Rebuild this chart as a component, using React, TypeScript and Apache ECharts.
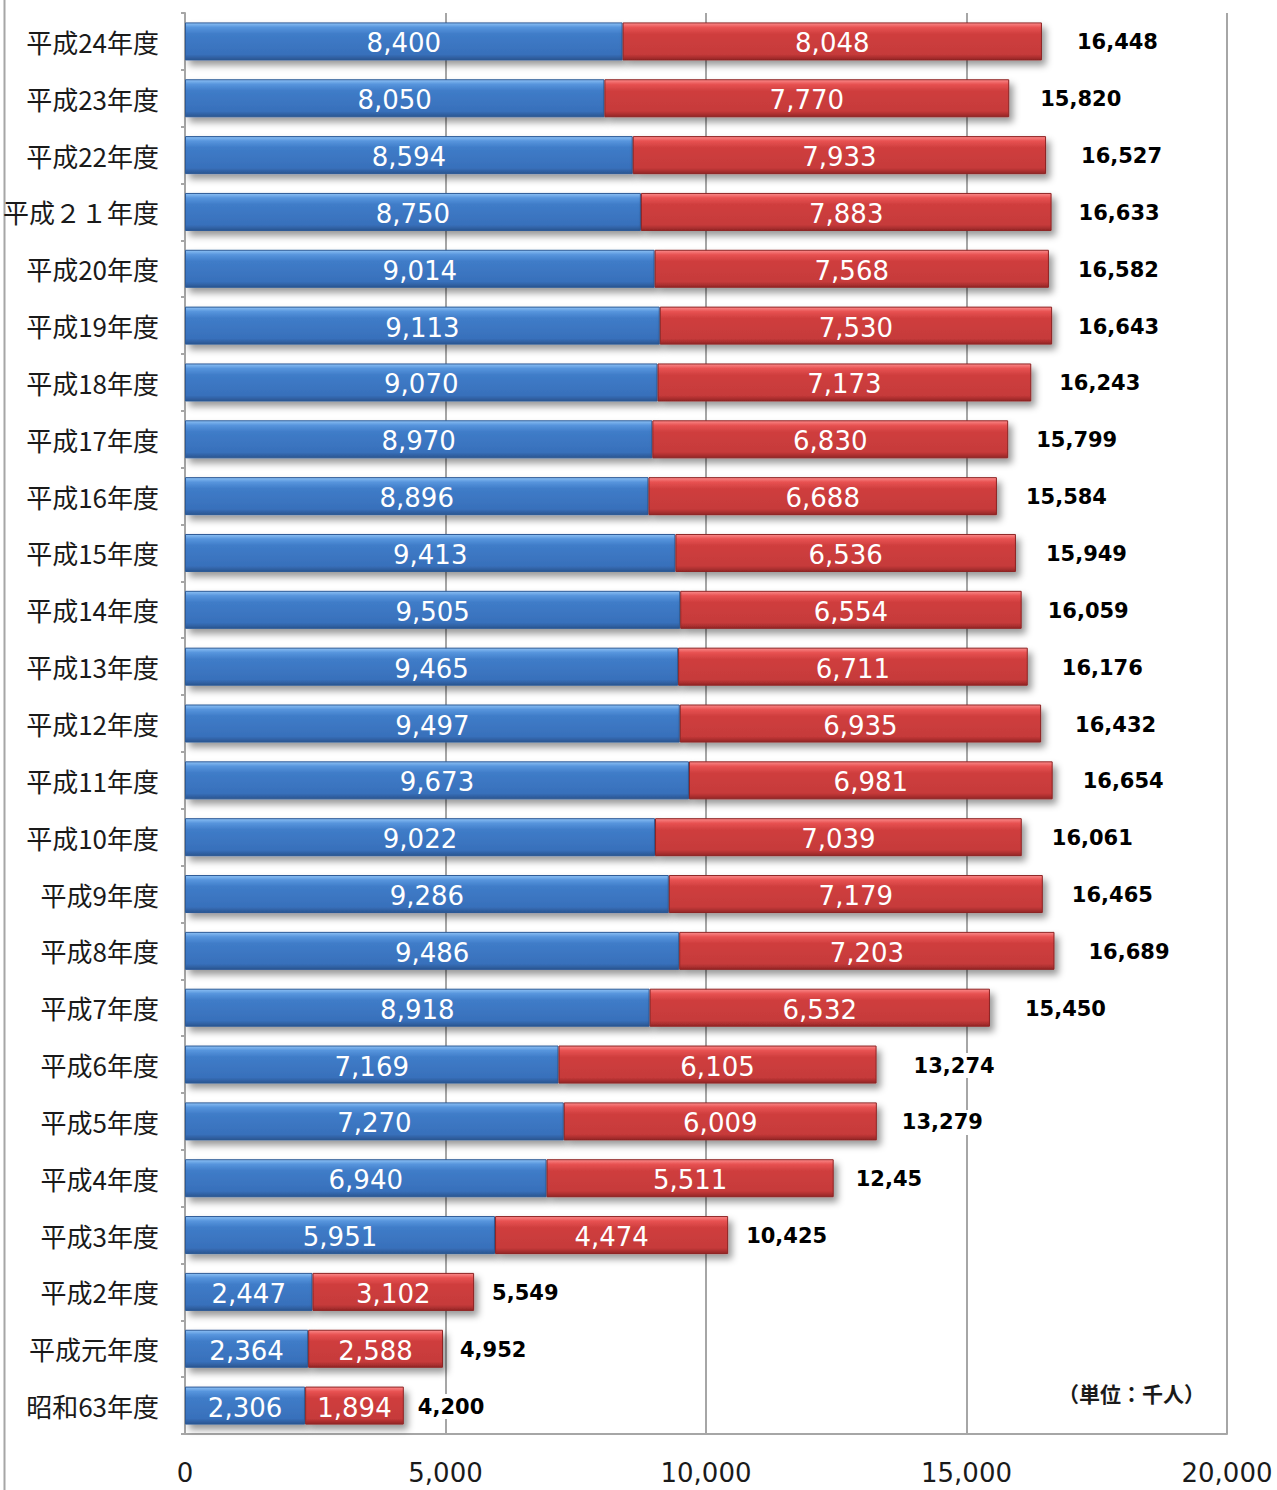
import React, { useEffect, useRef } from "react";
import * as echarts from "echarts";

const categories = [
  "平成24年度", "平成23年度", "平成22年度", "平成２１年度", "平成20年度",
  "平成19年度", "平成18年度", "平成17年度", "平成16年度", "平成15年度",
  "平成14年度", "平成13年度", "平成12年度", "平成11年度", "平成10年度",
  "平成9年度", "平成8年度", "平成7年度", "平成6年度", "平成5年度",
  "平成4年度", "平成3年度", "平成2年度", "平成元年度", "昭和63年度",
];

const blueValues = [
  8400, 8050, 8594, 8750, 9014, 9113, 9070, 8970, 8896, 9413,
  9505, 9465, 9497, 9673, 9022, 9286, 9486, 8918, 7169, 7270,
  6940, 5951, 2447, 2364, 2306,
];

const redValues = [
  8048, 7770, 7933, 7883, 7568, 7530, 7173, 6830, 6688, 6536,
  6554, 6711, 6935, 6981, 7039, 7179, 7203, 6532, 6105, 6009,
  5511, 4474, 3102, 2588, 1894,
];

const totalLabels = [
  "16,448", "15,820", "16,527", "16,633", "16,582", "16,643", "16,243", "15,799",
  "15,584", "15,949", "16,059", "16,176", "16,432", "16,654", "16,061", "16,465",
  "16,689", "15,450", "13,274", "13,279", "12,45", "10,425", "5,549", "4,952", "4,200",
];

const xTicks = { min: 0, max: 20000, interval: 5000 };
const unitText = "（単位：千人）";

// label gaps (styling only)
const totalGaps = [
  33, 29, 33, 25, 27, 24, 26, 26, 27, 28, 24, 32, 32, 28, 28, 27, 32, 33, 35, 23,
  20, 16, 16, 15, 12,
];

const fmt = (v: number) => v.toLocaleString("en-US");

export default function App() {
  const ref = useRef<HTMLDivElement>(null);
  useEffect(() => {
    if (!ref.current) return;
    const chart = echarts.init(ref.current, null, { renderer: "svg" });
    const blueGrad = new echarts.graphic.LinearGradient(0, 0, 0, 1, [
      { offset: 0, color: "#8cc0f4" },
      { offset: 0.12, color: "#5795dd" },
      { offset: 0.3, color: "#3f7cc8" },
      { offset: 0.85, color: "#3870bb" },
      { offset: 1, color: "#2a5590" },
    ]);
    const redGrad = new echarts.graphic.LinearGradient(0, 0, 0, 1, [
      { offset: 0, color: "#fb8a8a" },
      { offset: 0.12, color: "#e85252" },
      { offset: 0.3, color: "#cf3e3e" },
      { offset: 0.85, color: "#c63a3a" },
      { offset: 1, color: "#942626" },
    ]);
    const shadow = {
      shadowColor: "rgba(0,0,0,0.4)",
      shadowBlur: 7,
      shadowOffsetX: 4,
      shadowOffsetY: 5,
    };
    chart.setOption({
      animation: false,
      backgroundColor: "#ffffff",
      grid: {
        left: 185,
        right: 50,
        top: 13,
        bottom: 56,
        containLabel: false,
        outerBoundsMode: "none",
      },
      xAxis: {
        type: "value",
        min: xTicks.min,
        max: xTicks.max,
        interval: xTicks.interval,
        axisLine: { show: true, lineStyle: { color: "#a6a6a6", width: 2 } },
        axisTick: { show: false },
        splitLine: { show: true, lineStyle: { color: "#a6a6a6", width: 2 } },
        axisLabel: {
          formatter: (v: number) => fmt(v),
          fontFamily: "DejaVu Sans",
          fontSize: 26,
          color: "#1a1a1a",
          margin: 26,
        },
      },
      yAxis: {
        type: "category",
        data: categories,
        inverse: true,
        axisLine: { show: true, lineStyle: { color: "#a6a6a6", width: 2 } },
        axisTick: { show: true, length: 4, lineStyle: { color: "#a6a6a6", width: 2 } },
        axisLabel: {
          fontFamily: "Noto Sans CJK JP",
          fontSize: 26,
          color: "#1a1a1a",
          margin: 26,
        },
      },
      series: [
        {
          type: "bar",
          stack: "total",
          data: blueValues,
          barWidth: 38,
          itemStyle: { color: blueGrad, borderColor: "#2d5a96", borderWidth: 1, ...shadow },
          label: {
            show: true,
            position: "inside",
            offset: [0, 2],
            formatter: (p: any) => fmt(p.value),
            fontFamily: "DejaVu Sans",
            fontSize: 26,
            color: "#ffffff",
          },
        },
        {
          type: "bar",
          stack: "total",
          barWidth: 38,
          data: redValues.map((v, i) => ({
            value: v,
            label: { distance: totalGaps[i] },
          })),
          itemStyle: { color: redGrad, borderColor: "#8e2424", borderWidth: 1, ...shadow },
          label: {
            show: true,
            position: "inside",
            offset: [0, 2],
            formatter: (p: any) => fmt(p.value),
            fontFamily: "DejaVu Sans",
            fontSize: 26,
            color: "#ffffff",
          },
        },
        {
          type: "bar",
          stack: "total",
          barWidth: 38,
          data: redValues.map((_, i) => ({
            value: 0,
            label: { distance: totalGaps[i] },
          })),
          itemStyle: { color: "transparent" },
          label: {
            show: true,
            position: "right",
            offset: [0, 1],
            formatter: (p: any) => totalLabels[p.dataIndex],
            fontFamily: "DejaVu Sans",
            fontWeight: "bold",
            fontSize: 21,
            color: "#000000",
            backgroundColor: "#ffffff",
            padding: [2, 2, 2, 2],
          },
        },
      ],
      graphic: [
        {
          type: "line",
          shape: { x1: 4.5, y1: 0, x2: 4.5, y2: 1490 },
          style: { stroke: "#a6a6a6", lineWidth: 2 },
          silent: true,
        },
        {
          type: "text",
          left: 1058,
          top: 1382,
          style: {
            text: unitText,
            font: "bold 21px 'Noto Sans CJK JP'",
            fill: "#1a1a1a",
          },
        },
      ],
    });
    return () => chart.dispose();
  }, []);
  return (
    <div
      ref={ref}
      style={{ position: "absolute", left: 0, top: 0, width: 1277, height: 1490 }}
    />
  );
}
